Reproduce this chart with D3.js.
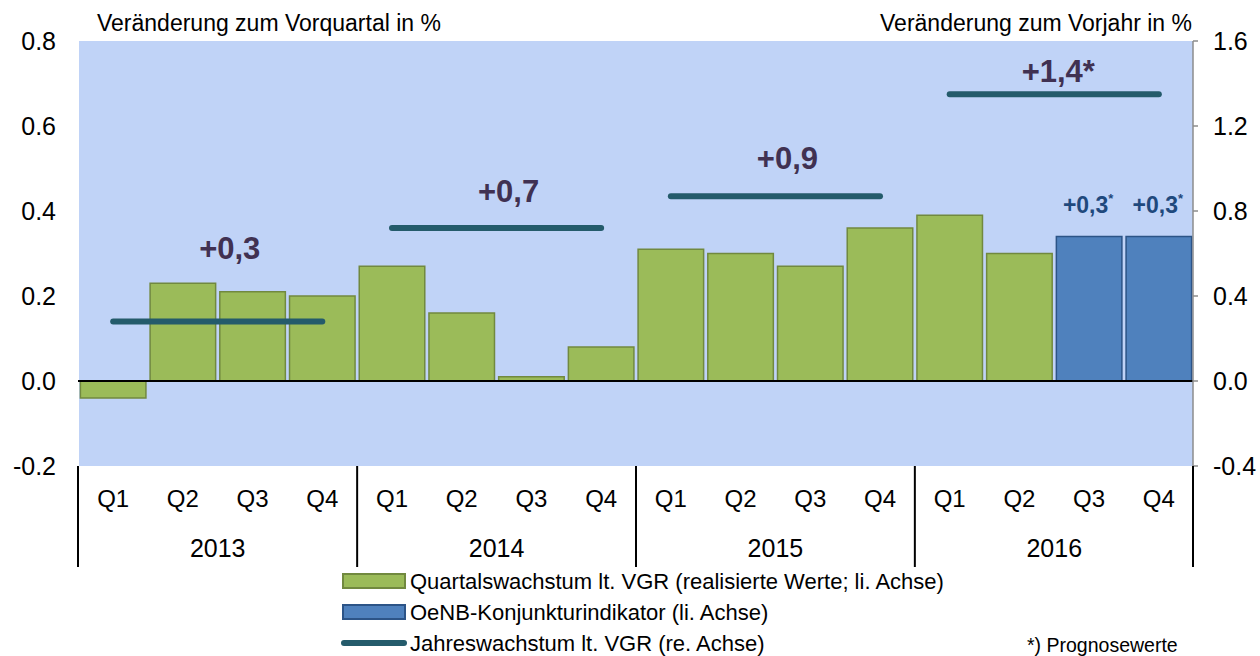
<!DOCTYPE html>
<html lang="de">
<head>
<meta charset="UTF-8">
<title>Quartalswachstum und OeNB-Konjunkturindikator</title>
<style>
  body { margin: 0; background: #fff; }
  svg text { font-family: "Liberation Sans", Arial, sans-serif; fill: #000; }
  .tick-label { font-size: 25px; }
  .q { font-size: 24px; }
  .axis-title { font-size: 23px; }
  .legend text { font-size: 22px; }
  .year-label { font-size: 31px; font-weight: bold; fill: #403152; }
  .fc-label { font-size: 23px; font-weight: bold; fill: #1F497D; }
</style>
</head>
<body>
<script src="https://d3js.org/d3.v7.min.js"></script>
<script>
// years and quarters on the category axis
const years = ["2013", "2014", "2015", "2016"];
const quarters = ["Q1", "Q2", "Q3", "Q4"];

// quarterly growth, realised (left axis), 2013Q1 .. 2016Q2
const realised = [-0.04, 0.23, 0.21, 0.20, 0.27, 0.16, 0.01, 0.08, 0.31, 0.30, 0.27, 0.36, 0.39, 0.30];
// OeNB indicator forecast (left axis), 2016Q3 .. 2016Q4
const forecast = [0.34, 0.34];
const forecastText = ["+0,3", "+0,3"];

// annual growth (right axis) per year
const annual = [0.28, 0.72, 0.87, 1.35];
const annualText = ["+0,3", "+0,7", "+0,9", "+1,4*"];
// where the annual label sits (right axis units)
const annualLabelAt = [0.574, 0.842, 0.998, 1.407];

const leftTicks = [-0.2, 0.0, 0.2, 0.4, 0.6, 0.8];
const rightTicks = [-0.4, 0.0, 0.4, 0.8, 1.2, 1.6];

const W = 1260, H = 656;
const x0 = 79, x1 = 1193, yTop = 41, yBot = 466;

const svg = d3.select("body").append("svg")
  .attr("width", W).attr("height", H);

const cats = [];
years.forEach(y => quarters.forEach(q => cats.push(y + "-" + q)));

const x = d3.scaleBand().domain(cats).range([x0, x1]).paddingInner(0.06).paddingOuter(0.02);
const yL = d3.scaleLinear().domain([-0.2, 0.8]).range([yBot, yTop]);
const yR = d3.scaleLinear().domain([-0.4, 1.6]).range([yBot, yTop]);
const fmt = d => d3.format(".1f")(d).replace("−", "-");

// plot background
svg.append("rect")
  .attr("x", x0).attr("y", yTop)
  .attr("width", x1 - x0).attr("height", yBot - yTop)
  .attr("fill", "#C0D3F7");

// bars
const barData = cats.map((c, i) => {
  if (i < realised.length) return { c, v: realised[i], fc: false };
  return { c, v: forecast[i - realised.length], fc: true, t: forecastText[i - realised.length] };
});

svg.selectAll("rect.bar")
  .data(barData)
  .join("rect")
  .attr("class", "bar")
  .attr("x", d => x(d.c))
  .attr("width", x.bandwidth())
  .attr("y", d => yL(Math.max(0, d.v)))
  .attr("height", d => Math.abs(yL(d.v) - yL(0)))
  .attr("fill", d => d.fc ? "#4F81BD" : "#9BBB59")
  .attr("stroke", d => d.fc ? "#2C5487" : "#71893F")
  .attr("stroke-width", 1.5);

// zero line
svg.append("line")
  .attr("x1", x0 - 1).attr("x2", x1)
  .attr("y1", yL(0)).attr("y2", yL(0))
  .attr("stroke", "#000").attr("stroke-width", 2);

// annual growth lines: from Q1 centre to Q4 centre of each year
const half = x.bandwidth() / 2;
svg.selectAll("line.annual")
  .data(years)
  .join("line")
  .attr("class", "annual")
  .attr("x1", y => x(y + "-Q1") + half)
  .attr("x2", y => x(y + "-Q4") + half)
  .attr("y1", (y, i) => yR(annual[i]))
  .attr("y2", (y, i) => yR(annual[i]))
  .attr("stroke", "#245B6B").attr("stroke-width", 6)
  .attr("stroke-linecap", "round");

svg.selectAll("text.year-label")
  .data(years)
  .join("text")
  .attr("class", "year-label")
  .attr("x", y => (x(y + "-Q1") + x(y + "-Q4") + x.bandwidth()) / 2)
  .attr("y", (y, i) => yR(annualLabelAt[i]))
  .attr("dx", (y, i) => annualText[i].endsWith("*") ? 4 : 12)
  .attr("text-anchor", "middle")
  .text((y, i) => annualText[i]);

// forecast labels with superscript star
const fcBars = barData.filter(d => d.fc);
const fcText = svg.selectAll("text.fc-label")
  .data(fcBars)
  .join("text")
  .attr("class", "fc-label")
  .attr("x", d => x(d.c) + half - 1)
  .attr("y", d => yL(d.v) - 24)
  .attr("text-anchor", "middle");
fcText.append("tspan").text(d => d.t);
fcText.append("tspan").attr("dy", -10).style("font-size", "13px").text("*");

// right axis line + ticks
svg.append("line")
  .attr("x1", x1).attr("x2", x1).attr("y1", yTop).attr("y2", yBot)
  .attr("stroke", "#8C8C8C").attr("stroke-width", 1.5);
svg.selectAll("line.rtick")
  .data(rightTicks)
  .join("line")
  .attr("class", "rtick")
  .attr("x1", x1).attr("x2", x1 + 5)
  .attr("y1", d => yR(d)).attr("y2", d => yR(d))
  .attr("stroke", "#8C8C8C").attr("stroke-width", 1.5);

// tick labels
svg.selectAll("text.lt")
  .data(leftTicks)
  .join("text")
  .attr("class", "tick-label lt")
  .attr("x", 56).attr("y", d => yL(d))
  .attr("dy", "0.35em").attr("text-anchor", "end")
  .text(fmt);

svg.selectAll("text.rt")
  .data(rightTicks)
  .join("text")
  .attr("class", "tick-label rt")
  .attr("x", 1213).attr("y", d => yR(d))
  .attr("dy", "0.35em").attr("text-anchor", "start")
  .text(fmt);

// axis titles
svg.append("text").attr("class", "axis-title")
  .attr("x", 97).attr("y", 31).text("Veränderung zum Vorquartal in %");
svg.append("text").attr("class", "axis-title")
  .attr("x", 1192).attr("y", 31).attr("text-anchor", "end")
  .text("Veränderung zum Vorjahr in %");

// category axis: quarter labels, year labels, separators
svg.selectAll("text.q")
  .data(cats)
  .join("text")
  .attr("class", "tick-label q")
  .attr("x", c => x(c) + half)
  .attr("y", 507)
  .attr("text-anchor", "middle")
  .text(c => c.split("-")[1]);

svg.selectAll("text.yr")
  .data(years)
  .join("text")
  .attr("class", "tick-label yr")
  .attr("x", y => (x(y + "-Q1") + x(y + "-Q4") + x.bandwidth()) / 2)
  .attr("y", 557)
  .attr("text-anchor", "middle")
  .text(y => y);

const sepX = years.map(y => x(y + "-Q1") - x.step() * x.paddingInner() / 2).concat([x1]);
sepX[0] = x0 - 1;
svg.selectAll("line.sep")
  .data(sepX)
  .join("line")
  .attr("class", "sep")
  .attr("x1", d => d).attr("x2", d => d)
  .attr("y1", yBot).attr("y2", 567)
  .attr("stroke", "#000").attr("stroke-width", 2);

// legend
const legendItems = [
  { label: "Quartalswachstum lt. VGR (realisierte Werte; li. Achse)", type: "bar", fill: "#9BBB59", stroke: "#71893F" },
  { label: "OeNB-Konjunkturindikator (li. Achse)", type: "bar", fill: "#4F81BD", stroke: "#2C5487" },
  { label: "Jahreswachstum lt. VGR (re. Achse)", type: "line", fill: "#245B6B" }
];
const lg = svg.append("g").attr("class", "legend");
const row = lg.selectAll("g").data(legendItems).join("g")
  .attr("transform", (d, i) => `translate(342, ${581 + i * 31})`);
row.filter(d => d.type === "bar").append("rect")
  .attr("x", 1).attr("y", -7).attr("width", 62).attr("height", 14)
  .attr("fill", d => d.fill).attr("stroke", d => d.stroke).attr("stroke-width", 2);
row.filter(d => d.type === "line").append("line")
  .attr("x1", 2).attr("x2", 62).attr("y1", 0).attr("y2", 0)
  .attr("stroke", d => d.fill).attr("stroke-width", 6).attr("stroke-linecap", "round");
row.append("text")
  .attr("x", 68).attr("y", 0).attr("dy", "0.35em")
  .text(d => d.label);

svg.append("text").attr("x", 1027).attr("y", 652)
  .style("font-size", "19.5px").text("*) Prognosewerte");
</script>
</body>
</html>
